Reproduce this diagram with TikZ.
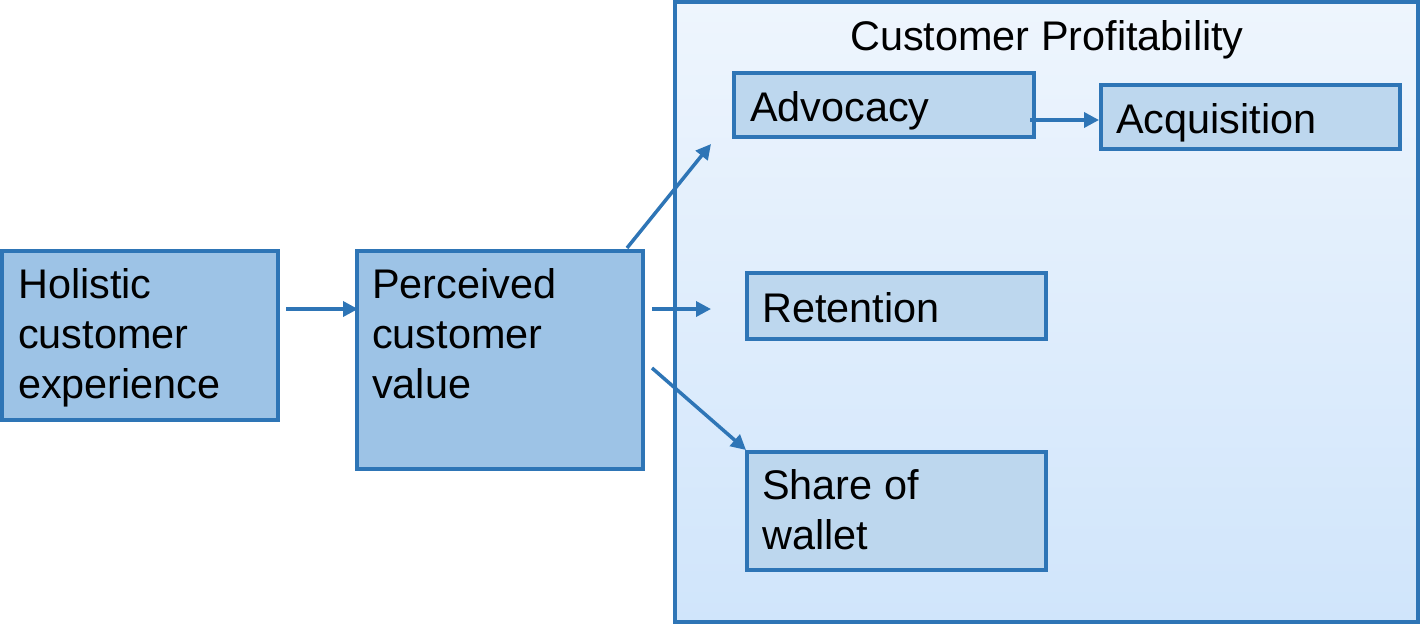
\documentclass[tikz,border=0pt]{standalone}
\usepackage{fontspec}
\setmainfont{Liberation Sans}
\usetikzlibrary{arrows.meta}
\definecolor{bord}{HTML}{2E75B6}
\definecolor{darkfill}{HTML}{9DC3E6}
\definecolor{lightfill}{HTML}{BDD7EE}
\definecolor{bgtop}{HTML}{EEF5FD}
\definecolor{bgbot}{HTML}{D0E5FB}
\tikzset{
  box/.style={draw=bord, line width=4pt, inner sep=0pt, outer sep=0pt, anchor=north west},
  darkbox/.style={box, fill=darkfill},
  lightbox/.style={box, fill=lightfill},
  lbl/.style={anchor=base west, inner sep=0pt, align=left, font=\fontsize{41.4pt}{50pt}\selectfont},
  arr/.style={draw=bord, line width=3.5pt, -{Triangle[length=15pt,width=15pt]}}
}
\begin{document}
\begin{tikzpicture}[x=1pt, y=-1pt]
\useasboundingbox (0,0) rectangle (1423,626);
% big container
\node[box, top color=bgtop, bottom color=bgbot, minimum width=743pt, minimum height=620pt] (cp) at (675,2) {};
\node[anchor=base, inner sep=0pt, font=\fontsize{41.4pt}{50pt}\selectfont] (cptitle) at (1047,51) {Customer Profitability};
% boxes
\node[darkbox, minimum width=275.5pt, minimum height=169pt] (hol) at (2,250.5) {};
\node[lbl] (holt) at (18,398) {Holistic\\customer\\experience};
\node[darkbox, minimum width=286pt, minimum height=218pt] (per) at (357,251) {};
\node[lbl] (pert) at (372,398) {Perceived\\customer\\value};
\node[lightbox, minimum width=300pt, minimum height=64pt] (adv) at (734,73) {};
\node[lbl] (advt) at (750,121) {Advocacy};
\node[lightbox, minimum width=299pt, minimum height=64.5pt] (acq) at (1101,84.5) {};
\node[lbl] (acqt) at (1116,133) {Acquisition};
\node[lightbox, minimum width=299pt, minimum height=66pt] (ret) at (747,273) {};
\node[lbl] (rett) at (762,322) {Retention};
\node[lightbox, minimum width=299.5pt, minimum height=118pt] (sha) at (746.5,452) {};
\node[lbl] (shat) at (762,549) {Share of\\wallet};
% arrow end points
\coordinate (a1s) at (286,309);
\coordinate (a1e) at (358,309);
\coordinate (a2s) at (627,248);
\coordinate (a2e) at (711,144);
\coordinate (a3s) at (652,309);
\coordinate (a3e) at (711,309);
\coordinate (a4s) at (652,368);
\coordinate (a4e) at (746,450);
\coordinate (a5s) at (1030,120);
\coordinate (a5e) at (1099,120);
\draw[arr] (a1s) -- (a1e);
\draw[arr] (a2s) -- (a2e);
\draw[arr] (a3s) -- (a3e);
\draw[arr] (a4s) -- (a4e);
\draw[arr] (a5s) -- (a5e);
\end{tikzpicture}
\end{document}
